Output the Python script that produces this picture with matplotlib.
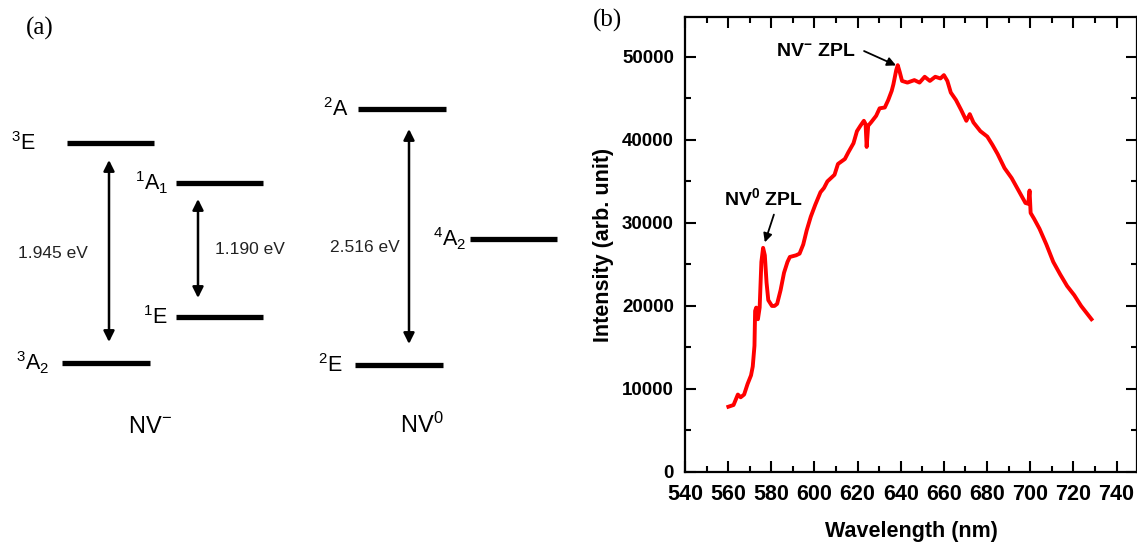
import matplotlib
matplotlib.use("Agg")
import matplotlib.pyplot as plt
from matplotlib.ticker import MultipleLocator

plt.rcParams['font.family'] = ['Liberation Sans', 'DejaVu Sans']
plt.rcParams['mathtext.fontset'] = 'custom'
plt.rcParams['mathtext.rm'] = 'Liberation Sans'
plt.rcParams['mathtext.it'] = 'Liberation Sans:italic'
plt.rcParams['mathtext.bf'] = 'Liberation Sans:bold'

# ---------------- data: PL spectrum (panel b) ----------------
wavelength = [560.1, 562.5, 564.5, 565.8, 567.4, 569.0, 570.6, 571.4, 572.2, 572.5,
              573.0, 573.8, 574.6, 575.4, 576.2, 577.0, 577.8, 578.6, 580.3, 581.5,
              582.7, 584.3, 585.9, 587.5, 588.6, 591.5, 593.1, 594.8, 596.4, 598.3,
              600.4, 602.8, 604.4, 606.0, 609.3, 610.9, 614.1, 615.7, 618.1, 619.7,
              621.3, 622.9, 623.7, 624.2, 624.9, 626.2, 628.6, 630.2, 632.6, 634.2,
              635.8, 636.6, 637.9, 638.6, 639.5, 640.6, 643.1, 646.3, 648.7, 651.1,
              653.5, 656.0, 658.4, 660.0, 661.6, 663.2, 665.6, 668.0, 670.4, 672.0,
              673.7, 676.9, 680.1, 682.5, 684.9, 688.1, 691.4, 694.6, 697.8, 699.1,
              699.7, 700.2, 701.8, 704.3, 707.5, 710.7, 713.9, 717.1, 720.4, 723.6,
              728.4]
intensity = [7860, 8070, 9330, 9000, 9330, 10600, 11640, 12700, 15200, 19400,
             19800, 18400, 19800, 25300, 27000, 26100, 22800, 20700, 20000, 20000,
             20250, 21900, 24000, 25300, 25900, 26100, 26300, 27400, 29100, 30750,
             32200, 33700, 34200, 35000, 35800, 37100, 37700, 38500, 39600, 41050,
             41700, 42300, 41900, 39150, 41700, 42100, 42900, 43800, 43900, 44800,
             45900, 46700, 48400, 49000, 48200, 47100, 46900, 47200, 46900, 47600,
             47100, 47600, 47400, 47800, 47100, 45700, 44800, 43600, 42300, 43100,
             42100, 41050, 40400, 39400, 38300, 36600, 35400, 33900, 32400, 32300,
             33900, 31200, 30500, 29300, 27400, 25300, 23800, 22400, 21300, 20000,
             18400]

x_ticks = [540, 560, 580, 600, 620, 640, 660, 680, 700, 720, 740]
y_ticks = [0, 10000, 20000, 30000, 40000, 50000]

# ---------------- data: energy levels (panel a) ----------------
level_labels = [r'$^{3}$E', r'$^{1}$A$_{1}$', r'$^{1}$E', r'$^{3}$A$_{2}$',
                r'$^{2}$A', r'$^{2}$E', r'$^{4}$A$_{2}$']
transition_labels = ['1.945 eV', '1.190 eV', '2.516 eV']
center_labels = [r'NV$^{-}$', r'NV$^{0}$']

fig = plt.figure(figsize=(11.37, 5.43), dpi=100)

# ---------------- panel (a) in pixel coordinates ----------------
axa = fig.add_axes([0, 0, 580 / 1137, 1])
axa.set_xlim(0, 580)
axa.set_ylim(543, 0)
axa.axis('off')

# level geometry (x0, x1, y) and label right edge
lv_geom = [(67, 154, 143, 36), (176, 263, 183, 168), (176, 263, 317, 168),
           (62, 150, 363, 49), (358, 446, 109, 348), (355, 443, 365, 343),
           (470, 557, 239, 466)]
for lab, (x0, x1, y, xl) in zip(level_labels, lv_geom):
    axa.plot([x0, x1], [y, y], color='black', lw=3.8, solid_capstyle='butt')
    axa.text(xl, y + 7.5, lab, ha='right', va='baseline', fontsize=15.5)

arrows = [(109, 160, 342), (198, 199, 298), (409, 129, 344)]
for (x, y0, y1) in arrows:
    axa.annotate('', xy=(x, y0), xytext=(x, y1),
                 arrowprops=dict(arrowstyle='<|-|>', color='black', lw=1.8,
                                 mutation_scale=16, shrinkA=0, shrinkB=0))
tl_pos = [(53, 253), (250, 249), (365, 247)]
for lab, (x, y) in zip(transition_labels, tl_pos):
    axa.text(x, y, lab, ha='center', va='center', fontsize=12.5, color='#222222')

axa.text(150, 427, center_labels[0], ha='center', va='center', fontsize=17)
axa.text(422, 425, center_labels[1], ha='center', va='center', fontsize=17)
axa.text(40, 28, '(a)', ha='center', va='center', fontsize=18,
         family='Liberation Serif')
fig.text(607 / 1137, 1 - 20 / 543, '(b)', ha='center', va='center', fontsize=18,
         family='Liberation Serif')

# ---------------- panel (b) spectrum ----------------
ax = fig.add_axes([685 / 1137, 71 / 543, 1 - 685 / 1137, (472 - 17) / 543])
ax.plot(wavelength, intensity, color='#ff0000', lw=2.8)
ax.set_xlim(540, 749.5)
ax.set_ylim(0, 54800)
ax.set_xticks(x_ticks)
ax.set_yticks(y_ticks)
ax.xaxis.set_minor_locator(MultipleLocator(10))
ax.yaxis.set_minor_locator(MultipleLocator(5000))
ax.tick_params(which='both', direction='in', top=True, right=True, width=1.5)
ax.tick_params(which='major', length=8)
ax.tick_params(which='minor', length=4)
ax.tick_params(axis='x', labelsize=15.5, pad=9)
ax.tick_params(axis='y', labelsize=13.5, pad=8)
for t in ax.get_xticklabels() + ax.get_yticklabels():
    t.set_fontweight('bold')
for s in ax.spines.values():
    s.set_linewidth(1.6)
ax.set_xlabel('Wavelength (nm)', fontsize=15.5, fontweight='bold', labelpad=11)
ax.set_ylabel('Intensity (arb. unit)', fontsize=15.5, fontweight='bold', labelpad=6)

ax.text(600.6, 50700, r'NV$^{\mathbf{-}}$ ZPL', ha='center', va='center',
        fontsize=14, fontweight='bold')
ax.annotate('', xy=(638.4, 48900), xytext=(623.0, 50700),
            arrowprops=dict(arrowstyle='-|>', color='black', lw=1.3,
                            mutation_scale=13, shrinkA=0, shrinkB=1))
ax.text(576.6, 33000, r'NV$^{\mathbf{0}}$ ZPL', ha='center', va='center',
        fontsize=14, fontweight='bold')
ax.annotate('', xy=(576.8, 27500), xytext=(581.2, 31000),
            arrowprops=dict(arrowstyle='-|>', color='black', lw=1.3,
                            mutation_scale=13, shrinkA=0, shrinkB=1))

fig.savefig('out.png', dpi=100)
